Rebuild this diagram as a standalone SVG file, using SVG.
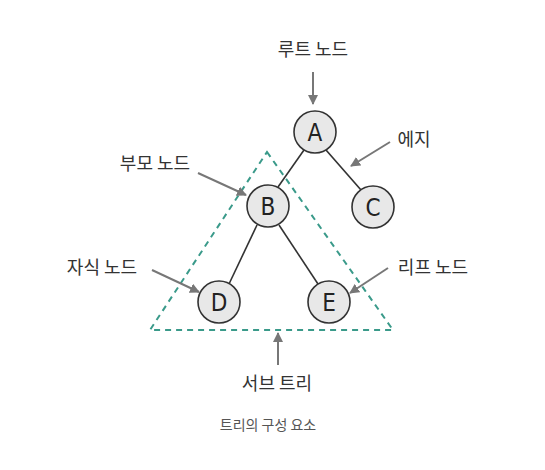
<svg xmlns="http://www.w3.org/2000/svg" width="545" height="470" viewBox="0 0 545 470">
<defs>
<style>
.lbl{font-family:"Noto Sans CJK KR","Noto Sans",sans-serif;font-size:18px;fill:#333;text-anchor:middle}
.cap{font-family:"Noto Sans CJK KR","Noto Sans",sans-serif;font-size:14px;fill:#555;text-anchor:middle}
.node circle{fill:#e8e8e8;stroke:#333;stroke-width:1.6}
.node text{font-family:"DejaVu Sans Condensed","DejaVu Sans",sans-serif;font-size:24px;fill:#222;text-anchor:middle}
.edge{stroke:#333;stroke-width:1.6;fill:none}
.ptr{stroke:#777;stroke-width:2;fill:none;marker-end:url(#ah)}
.sub{stroke:#3a9a8a;stroke-width:2;stroke-dasharray:6 5;fill:none}
</style>
<marker id="ah" viewBox="0 0 10 10" refX="9" refY="5" markerWidth="5" markerHeight="5" orient="auto" markerUnits="strokeWidth">
<path d="M0,0 L10,5 L0,10 z" fill="#777"/>
</marker>
</defs>
<rect width="545" height="470" fill="#ffffff"/>
<g id="subtree">
<polygon class="sub" points="267,152 393,330 150,330"/>
</g>
<g id="connectors">
<line class="edge" x1="304" y1="150" x2="278" y2="187"/>
<line class="edge" x1="326" y1="150" x2="361" y2="190"/>
<line class="edge" x1="257" y1="225" x2="229" y2="284"/>
<line class="edge" x1="279" y1="225" x2="318" y2="284"/>
<line class="ptr" x1="313" y1="72" x2="313" y2="104"/>
<line class="ptr" x1="390" y1="142" x2="351" y2="166"/>
<line class="ptr" x1="198" y1="173" x2="246" y2="195"/>
<line class="ptr" x1="152" y1="270" x2="199" y2="292"/>
<line class="ptr" x1="388" y1="268" x2="350" y2="293"/>
<line class="ptr" x1="278" y1="365" x2="278" y2="333"/>
</g>
<g id="nodeA" class="node"><circle cx="315" cy="132" r="21"/><text x="315" y="141">A</text></g>
<g id="nodeB" class="node"><circle cx="268" cy="206" r="21"/><text x="268" y="215">B</text></g>
<g id="nodeC" class="node"><circle cx="373" cy="207" r="21"/><text x="373" y="216">C</text></g>
<g id="nodeD" class="node"><circle cx="219" cy="302" r="21"/><text x="219" y="311">D</text></g>
<g id="nodeE" class="node"><circle cx="329" cy="302" r="21"/><text x="329" y="311">E</text></g>
<g id="labels">
<text class="lbl" x="313" y="56">루트 노드</text>
<text class="lbl" x="414" y="146">에지</text>
<text class="lbl" x="155" y="170">부모 노드</text>
<text class="lbl" x="102" y="274">자식 노드</text>
<text class="lbl" x="433" y="274">리프 노드</text>
<text class="lbl" x="277" y="390">서브 트리</text>
<text class="cap" x="268" y="430">트리의 구성 요소</text>
</g>
</svg>
